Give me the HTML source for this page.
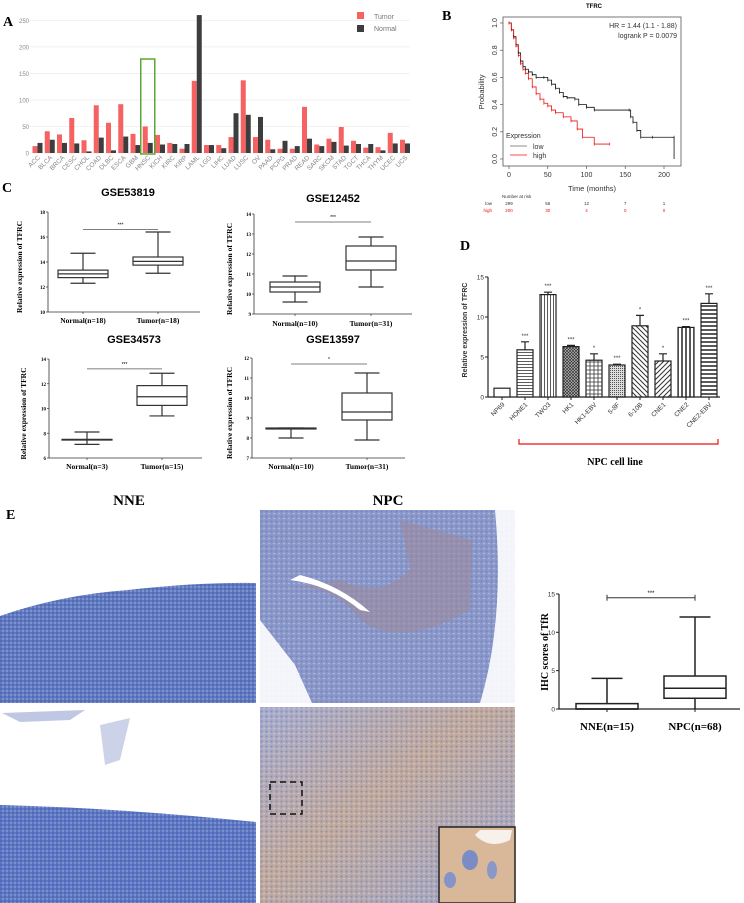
<!DOCTYPE html>
<html><head><meta charset="utf-8"><style>
html,body{margin:0;padding:0;background:#fff;}
svg{display:block;}
.s{font-family:"Liberation Sans",sans-serif;}
.r{font-family:"Liberation Serif",serif;font-weight:bold;}
</style></head><body>
<svg id="fig" width="744" height="903" viewBox="0 0 744 903" xmlns="http://www.w3.org/2000/svg">
<defs>
<pattern id="dots" width="4" height="4" patternUnits="userSpaceOnUse"><rect width="4" height="4" fill="none"/><circle cx="1" cy="1" r="0.9" fill="#2f4ea8" opacity="0.5"/><circle cx="3" cy="3" r="0.7" fill="#dfe4f4" opacity="0.6"/></pattern>
<pattern id="dots2" width="5" height="5" patternUnits="userSpaceOnUse"><circle cx="1.5" cy="1.5" r="1" fill="#5a6fb8" opacity="0.5"/><circle cx="4" cy="3.5" r="0.8" fill="#f0e8e0" opacity="0.5"/></pattern>
<linearGradient id="npcb" x1="0" y1="0" x2="1" y2="1"><stop offset="0" stop-color="#a7acce"/><stop offset="0.45" stop-color="#c2aa9c"/><stop offset="1" stop-color="#a0a8cc"/></linearGradient>
<pattern id="p-h" width="4" height="3" patternUnits="userSpaceOnUse"><rect width="4" height="3" fill="#fff"/><line x1="0" y1="1.5" x2="4" y2="1.5" stroke="#333" stroke-width="0.8"/></pattern>
<pattern id="p-v" width="3" height="4" patternUnits="userSpaceOnUse"><rect width="3" height="4" fill="#fff"/><line x1="1.5" y1="0" x2="1.5" y2="4" stroke="#333" stroke-width="0.8"/></pattern>
<pattern id="p-x" width="3" height="3" patternUnits="userSpaceOnUse"><rect width="3" height="3" fill="#bbb"/><path d="M0 0L3 3M3 0L0 3" stroke="#333" stroke-width="0.7"/></pattern>
<pattern id="p-g" width="4" height="4" patternUnits="userSpaceOnUse"><rect width="4" height="4" fill="#fff"/><path d="M2 0V4M0 2H4" stroke="#333" stroke-width="0.8"/></pattern>
<pattern id="p-d" width="2" height="2" patternUnits="userSpaceOnUse"><rect width="2" height="2" fill="#ddd"/><rect width="1" height="1" fill="#555"/></pattern>
<pattern id="p-s1" width="5" height="5" patternUnits="userSpaceOnUse"><rect width="5" height="5" fill="#fff"/><path d="M0 0L5 5M-1 4L1 6M4 -1L6 1" stroke="#333" stroke-width="1"/></pattern>
<pattern id="p-s2" width="5" height="5" patternUnits="userSpaceOnUse"><rect width="5" height="5" fill="#fff"/><path d="M5 0L0 5M-1 1L1 -1M4 6L6 4" stroke="#333" stroke-width="1"/></pattern>
<pattern id="p-vv" width="4" height="4" patternUnits="userSpaceOnUse"><rect width="4" height="4" fill="#fff"/><line x1="2" y1="0" x2="2" y2="4" stroke="#222" stroke-width="1.5"/></pattern>
<pattern id="p-hh" width="4" height="4" patternUnits="userSpaceOnUse"><rect width="4" height="4" fill="#fff"/><line x1="0" y1="2" x2="4" y2="2" stroke="#222" stroke-width="1.5"/></pattern>
</defs>
<g id="A"></g>
<g id="B"></g>
<g id="C"></g>
<g id="D"></g>
<g id="E">
  <text class="r" x="6" y="519" font-size="14">E</text>
  <text class="r" x="129" y="505" font-size="15" text-anchor="middle">NNE</text>
  <text class="r" x="388" y="505" font-size="15" text-anchor="middle">NPC</text>
  <g>
    <path d="M0 616 Q60 595 128 590 Q200 582 256 583 L256 703 L0 703Z" fill="#5f78c0"/>
    <path d="M0 616 Q60 595 128 590 Q200 582 256 583 L256 703 L0 703Z" fill="url(#dots)"/>
  </g>
  <g>
    <path d="M0 805 Q120 808 256 822 L256 903 L0 903Z" fill="#5d76c2"/>
    <path d="M0 805 Q120 808 256 822 L256 903 L0 903Z" fill="url(#dots)"/>
    <path d="M2 713 L85 710 L70 720 L20 722Z" fill="#8090c8" opacity="0.5"/>
    <path d="M100 725 L130 718 L120 760 L105 765Z" fill="#8090c8" opacity="0.4"/>
  </g>
  <g>
    <rect x="260" y="510" width="255" height="193" fill="#8a98ca"/>
    <rect x="260" y="510" width="255" height="193" fill="url(#dots2)"/>
    <path d="M285 590 Q330 580 360 620 Q400 650 470 610 L472 540 L400 520 L410 570 Q380 600 340 580Z" fill="#9c8a9c" opacity="0.6"/>
    <path d="M290 580 Q330 585 360 610 L370 612 Q340 585 300 575Z" fill="#fff"/>
    <path d="M260 620 L295 665 L312 703 L260 703Z" fill="#fff" opacity="0.9"/>
    <path d="M495 510 L515 510 L515 703 L480 703 Q505 620 495 510Z" fill="#fff" opacity="0.9"/>
  </g>
  <g>
    <rect x="260" y="707" width="255" height="196" fill="url(#npcb)"/>
    <rect x="260" y="707" width="255" height="196" fill="url(#dots2)"/>
    <rect x="270" y="782" width="32" height="32" fill="none" stroke="#111" stroke-width="1.5" stroke-dasharray="6 4"/>
    <rect x="439" y="827" width="76" height="76" fill="#d9b89a" stroke="#222" stroke-width="1.5"/>
    <ellipse cx="470" cy="860" rx="8" ry="10" fill="#7b8cc4"/><ellipse cx="450" cy="880" rx="6" ry="8" fill="#8494c8"/><ellipse cx="492" cy="870" rx="5" ry="9" fill="#8a98c8"/>
    <path d="M475 835 Q490 850 510 840 L512 830 L480 830Z" fill="#fff" opacity="0.8"/>
  </g>
</g>
<g id="E2"></g>
</svg>
<script>
const NS="http://www.w3.org/2000/svg";
function mk(p,t,a,txt){const e=document.createElementNS(NS,t);for(const k in a)e.setAttribute(k,a[k]);if(txt!==undefined)e.textContent=txt;p.appendChild(e);return e;}

// ---------- Panel A data ----------
const aCategories=["ACC","BLCA","BRCA","CESC","CHOL","COAD","DLBC","ESCA","GBM","HNSC","KICH","KIRC","KIRP","LAML","LGG","LIHC","LUAD","LUSC","OV","PAAD","PCPG","PRAD","READ","SARC","SKCM","STAD","TGCT","THCA","THYM","UCEC","UCS"];
const aTumor=[13,41,35,66,24,90,57,92,36,50,34,19,8,136,15,15,30,137,30,25,8,8,87,16,27,49,23,10,11,38,25];
const aNormal=[19,25,19,18,3,29,5,31,15,19,16,17,17,260,15,9,75,72,68,7,23,13,27,13,21,14,17,17,5,18,18];
const aTicks=[0,50,100,150,200,250];

// ---------- Panel B data ----------
const kmLowT=[0,3,6,9,12,15,18,21,25,30,35,45,50,55,60,65,70,75,85,90,100,110,155,157,160,165,170,185,213];
const kmLowS=[1,0.95,0.9,0.84,0.78,0.72,0.68,0.66,0.64,0.62,0.6,0.6,0.58,0.55,0.52,0.49,0.46,0.45,0.44,0.4,0.38,0.36,0.36,0.31,0.27,0.21,0.16,0.16,0.16];
const kmHighT=[0,3,6,9,12,15,18,21,25,30,35,40,45,50,55,60,70,80,88,95,110,130];
const kmHighS=[1,0.95,0.89,0.83,0.76,0.7,0.66,0.63,0.59,0.53,0.48,0.44,0.41,0.39,0.36,0.34,0.31,0.28,0.22,0.16,0.11,0.11];
const bXTicks=[0,50,100,150,200];
const bYTicks=[0,0.2,0.4,0.6,0.8,1.0];
const riskLow=[299,56,12,7,1];
const riskHigh=[200,30,4,0,0];

// ---------- Panel C data ----------
const cTitles=["GSE53819","GSE12452","GSE34573","GSE13597"];
const cGroups=[["Normal(n=18)","Tumor(n=18)"],["Normal(n=10)","Tumor(n=31)"],["Normal(n=3)","Tumor(n=15)"],["Normal(n=10)","Tumor(n=31)"]];
const cNormal=[[12.3,12.75,13.05,13.35,14.7],[9.6,10.1,10.35,10.6,10.9],[7.1,7.45,7.5,7.5,8.1],[8.0,8.45,8.48,8.5,8.5]];
const cTumor=[[13.1,13.75,14.05,14.4,16.4],[10.35,11.2,11.65,12.4,12.85],[9.4,10.25,10.95,11.85,12.85],[7.9,8.9,9.3,10.25,11.25]];
const cYTicks=[[10,12,14,16,18],[9,10,11,12,13,14],[6,8,10,12,14],[7,8,9,10,11,12]];
const cSig=["***","***","***","*"];
const cSigVal=[16.6,13.6,13.2,11.7];

// ---------- Panel D data ----------
const dCells=["NP69","HONE1","TWO3","HK1","HK1-EBV","5-8F","6-10B","CNE1","CNE2","CNE2-EBV"];
const dValues=[1.1,5.9,12.8,6.3,4.6,4.0,8.9,4.5,8.7,11.7];
const dErrors=[0,1.0,0.3,0.15,0.8,0.1,1.3,0.9,0.1,1.2];
const dSig=["","***","***","***","*","***","*","*","***","***"];
const dTicks=[0,5,10,15];

// ---------- Panel E data ----------
const eGroups=["NNE(n=15)","NPC(n=68)"];
const eNNE=[0,0,0,0.7,4];
const eNPC=[0,1.4,2.7,4.3,12];
const eTicks=[0,5,10,15];

// ===== Panel A =====
(function(){
const g=document.getElementById('A');
const y=v=>153-v*0.5305, x=i=>37.5+i*12.25;
let t=mk(g,'text',{x:3,y:26,'font-size':14,'class':'r'},'A');

aTicks.forEach(v=>{
 let l=mk(g,'line',{x1:30,x2:410,y1:y(v),y2:y(v),stroke:'#eee','stroke-width':0.8});
 
 let tt=mk(g,'text',{x:29,y:y(v)+2.5,'font-size':6,'text-anchor':'end',fill:'#888','class':'s'},v);
 
});
aCategories.forEach((c,i)=>{
 let r1=mk(g,'rect',{x:x(i)-5,y:y(aTumor[i]),width:5,height:aTumor[i]*0.5305,fill:'#f66162'});
 
 let r2=mk(g,'rect',{x:x(i),y:y(aNormal[i]),width:5,height:aNormal[i]*0.5305,fill:'#3d3d3d'});
 
 let tl=mk(g,'text',{x:x(i)+3,y:158,'font-size':6.5,'text-anchor':'end',fill:'#888','class':'s',transform:`rotate(-45 ${x(i)+3} 158)`},c);
 
});
const hi=aCategories.indexOf('HNSC');
let gb=mk(g,'rect',{x:x(hi)-7,y:59,width:14,height:95,fill:'none',stroke:'#5aa832','stroke-width':1.5});

let l1=mk(g,'rect',{x:357,y:12,width:7,height:7,fill:'#f66162'});
let l2=mk(g,'rect',{x:357,y:25,width:7,height:7,fill:'#3d3d3d'});
let l3=mk(g,'text',{x:374,y:19,'font-size':7,fill:'#777','class':'s'},'Tumor');
let l4=mk(g,'text',{x:374,y:31,'font-size':7,fill:'#777','class':'s'},'Normal');
})();

// ===== Panel B =====
(function(){
const g=document.getElementById('B');
const x=v=>509+v*0.775, y=v=>159-v*136;
let t=mk(g,'text',{x:442,y:20,'font-size':14,'class':'r'},'B');
let ti=mk(g,'text',{x:594,y:8,'font-size':6,'font-weight':'bold','text-anchor':'middle','class':'s'},'TFRC');
let fr=mk(g,'rect',{x:503,y:17,width:178,height:149,fill:'none',stroke:'#555','stroke-width':0.8});
bXTicks.forEach(v=>{let l=mk(g,'line',{x1:x(v),x2:x(v),y1:166,y2:169,stroke:'#555','stroke-width':0.7});
 let tt=mk(g,'text',{x:x(v),y:177,'font-size':7,'text-anchor':'middle','class':'s',fill:'#333'},v);});
bYTicks.forEach(v=>{let l=mk(g,'line',{x1:500,x2:503,y1:y(v),y2:y(v),stroke:'#555','stroke-width':0.7});
 let tt=mk(g,'text',{x:497,y:y(v),'font-size':7,'text-anchor':'middle','class':'s',fill:'#333',transform:`rotate(-90 497 ${y(v)})`},v.toFixed(1));});
let xt=mk(g,'text',{x:592,y:191,'font-size':7.5,'text-anchor':'middle','class':'s',fill:'#333'},'Time (months)');
let yt=mk(g,'text',{x:484,y:92,'font-size':7.5,'text-anchor':'middle','class':'s',fill:'#333',transform:'rotate(-90 484 92)'},'Probability');
function step(T,S){let d=`M${x(T[0])} ${y(S[0])}`;for(let i=1;i<T.length;i++){d+=`H${x(T[i])}V${y(S[i])}`;}return d;}
let pl=mk(g,'path',{d:step(kmLowT,kmLowS)+`V${y(0)}`,fill:'none',stroke:'#111','stroke-width':0.8});
let ph=mk(g,'path',{d:step(kmHighT,kmHighS),fill:'none',stroke:'#e11','stroke-width':0.8});
kmLowT.forEach((v,i)=>{let c=mk(g,'path',{d:`M${x(v)} ${y(kmLowS[i])-1.5}v3`,stroke:'#111','stroke-width':0.6});});
kmHighT.forEach((v,i)=>{let c=mk(g,'path',{d:`M${x(v)} ${y(kmHighS[i])-1.5}v3`,stroke:'#e11','stroke-width':0.6});});
let h1=mk(g,'text',{x:677,y:28,'font-size':7,'text-anchor':'end','class':'s',fill:'#333'},'HR = 1.44 (1.1 - 1.88)');
let h2=mk(g,'text',{x:677,y:38,'font-size':7,'text-anchor':'end','class':'s',fill:'#333'},'logrank P = 0.0079');
let e1=mk(g,'text',{x:506,y:138,'font-size':7,'class':'s',fill:'#333'},'Expression');
let e2=mk(g,'line',{x1:510,x2:527,y1:146,y2:146,stroke:'#666','stroke-width':0.7});
let e3=mk(g,'text',{x:533,y:149,'font-size':7,'class':'s',fill:'#333'},'low');
let e4=mk(g,'line',{x1:510,x2:527,y1:155,y2:155,stroke:'#e11','stroke-width':0.7});
let e5=mk(g,'text',{x:533,y:158,'font-size':7,'class':'s',fill:'#333'},'high');
let n0=mk(g,'text',{x:502,y:198,'font-size':4.5,'class':'s',fill:'#333'},'Number at risk');
let n1=mk(g,'text',{x:492,y:205,'font-size':4.5,'text-anchor':'end','class':'s',fill:'#333'},'low');
let n2=mk(g,'text',{x:492,y:212,'font-size':4.5,'text-anchor':'end','class':'s',fill:'#e11'},'high');
bXTicks.forEach((v,i)=>{let a=mk(g,'text',{x:x(v),y:205,'font-size':4.5,'text-anchor':'middle','class':'s',fill:'#333'},riskLow[i]);
 let b=mk(g,'text',{x:x(v),y:212,'font-size':4.5,'text-anchor':'middle','class':'s',fill:'#e11'},riskHigh[i]);});
})();

// ===== Panel C =====
(function(){
const g=document.getElementById('C');
let t=mk(g,'text',{x:2,y:192,'font-size':14,'class':'r'},'C');
const L=[{ax:48,yt:212,yb:312,xe:200,c1:83,c2:158,tx:128,ty:196,lx:22,lab:323},
 {ax:254,yt:214,yb:314,xe:412,c1:295,c2:371,tx:333,ty:202,lx:232,lab:326},
 {ax:49,yt:359,yb:458,xe:202,c1:87,c2:162,tx:134,ty:343,lx:26,lab:469},
 {ax:252,yt:358,yb:458,xe:405,c1:291,c2:367,tx:333,ty:343,lx:232,lab:469}];
L.forEach((p,k)=>{
 const tk=cYTicks[k],lo=tk[0],hi=tk[tk.length-1];
 const y=v=>p.yb-(v-lo)/(hi-lo)*(p.yb-p.yt);
 let tt=mk(g,'text',{x:p.tx,y:p.ty,'font-size':11,'font-weight':'bold','text-anchor':'middle','class':'s'},cTitles[k]);
 let ax=mk(g,'path',{d:`M${p.ax} ${p.yt}V${p.yb}H${p.xe}`,fill:'none',stroke:'#333','stroke-width':0.8});
 tk.forEach(v=>{let l=mk(g,'line',{x1:p.ax-2,x2:p.ax,y1:y(v),y2:y(v),stroke:'#333','stroke-width':0.7});
  let tl=mk(g,'text',{x:p.ax-3,y:y(v)+2,'font-size':5,'text-anchor':'end','class':'r'},v);});
 let yl=mk(g,'text',{x:p.lx,y:(p.yt+p.yb)/2+5,'font-size':7.5,'text-anchor':'middle','class':'r',transform:`rotate(-90 ${p.lx} ${(p.yt+p.yb)/2+5})`},'Relative expression of TFRC');
 [[p.c1,cNormal[k]],[p.c2,cTumor[k]]].forEach(([cx,b],j)=>{
  let tick=mk(g,'line',{x1:cx,x2:cx,y1:p.yb,y2:p.yb+2,stroke:'#333','stroke-width':0.7});
  let lb=mk(g,'text',{x:cx,y:p.lab,'font-size':7.5,'text-anchor':'middle','class':'r'},cGroups[k][j]);
  const w=25;
  let bx=mk(g,'path',{d:`M${cx} ${y(b[0])}V${y(b[1])}M${cx-w/2} ${y(b[0])}H${cx+w/2}M${cx} ${y(b[4])}V${y(b[3])}M${cx-w/2} ${y(b[4])}H${cx+w/2}M${cx-w} ${y(b[2])}H${cx+w}`,stroke:'#333','stroke-width':1.2,fill:'none'});
  
  let r=mk(g,'rect',{x:cx-w,y:y(b[3]),width:2*w,height:Math.max(0,y(b[1])-y(b[3])),fill:'none',stroke:'#333','stroke-width':1.2});
  
 });
 let sl=mk(g,'line',{x1:p.c1,x2:p.c2,y1:y(cSigVal[k]),y2:y(cSigVal[k]),stroke:'#555','stroke-width':0.7});
 let st=mk(g,'text',{x:(p.c1+p.c2)/2,y:y(cSigVal[k])-3,'font-size':5,'text-anchor':'middle','class':'s'},cSig[k]);
});
})();

// ===== Panel D =====
(function(){
const g=document.getElementById('D');
const y=v=>397-v*8, x=i=>502+i*23;
const fills=['#fff','url(#p-h)','url(#p-v)','url(#p-x)','url(#p-g)','url(#p-d)','url(#p-s1)','url(#p-s2)','url(#p-vv)','url(#p-hh)'];
let t=mk(g,'text',{x:460,y:250,'font-size':14,'class':'r'},'D');
let ax=mk(g,'path',{d:`M488 ${y(15)}V397H720`,fill:'none',stroke:'#222','stroke-width':1.2});
dTicks.forEach(v=>{let l=mk(g,'line',{x1:485,x2:488,y1:y(v),y2:y(v),stroke:'#222','stroke-width':1});
 let tl=mk(g,'text',{x:484,y:y(v)+2.5,'font-size':6.5,'text-anchor':'end','class':'s',fill:'#333'},v);});
let yl=mk(g,'text',{x:467,y:330,'font-size':7,'font-weight':'bold','text-anchor':'middle','class':'s',fill:'#333',transform:'rotate(-90 467 330)'},'Relative expression of TFRC');
dCells.forEach((c,i)=>{
 const cx=x(i);
 if(dErrors[i]>0){let e=mk(g,'path',{d:`M${cx} ${y(dValues[i])}V${y(dValues[i]+dErrors[i])}M${cx-4} ${y(dValues[i]+dErrors[i])}H${cx+4}`,stroke:'#222','stroke-width':1.2});}
 let r=mk(g,'rect',{x:cx-8,y:y(dValues[i]),width:16,height:dValues[i]*8,fill:fills[i],stroke:'#222','stroke-width':1.2});
 
 let tk=mk(g,'line',{x1:cx,x2:cx,y1:397,y2:400,stroke:'#222'});
 let tl=mk(g,'text',{x:cx+3,y:405,'font-size':6.5,'text-anchor':'end','class':'s',fill:'#333',transform:`rotate(-45 ${cx+3} 405)`},c);
 if(dSig[i]){let s=mk(g,'text',{x:cx,y:y(dValues[i]+dErrors[i])-4,'font-size':6,'text-anchor':'middle','class':'s',fill:'#333'},dSig[i]);}
});
let br=mk(g,'path',{d:'M519 439V444H718V439',fill:'none',stroke:'#e11','stroke-width':1.2});
let bl=mk(g,'text',{x:615,y:465,'font-size':10,'text-anchor':'middle','class':'r'},'NPC cell line');
})();

// ===== Panel E boxplot =====
(function(){
const g=document.getElementById('E2');
const y=v=>709-v*7.67;
const cs=[607,695],data=[eNNE,eNPC];
let ax=mk(g,'path',{d:`M559 ${y(15)}V709H740`,fill:'none',stroke:'#222','stroke-width':1.2});
eTicks.forEach(v=>{let l=mk(g,'line',{x1:556,x2:559,y1:y(v),y2:y(v),stroke:'#222'});
 let tl=mk(g,'text',{x:555,y:y(v)+2.5,'font-size':6.5,'text-anchor':'end','class':'s',fill:'#333'},v);});
let yl=mk(g,'text',{x:548,y:652,'font-size':10,'text-anchor':'middle','class':'r',transform:'rotate(-90 548 652)'},'IHC scores of TfR');
data.forEach((b,j)=>{const cx=cs[j],w=31;
 let tk=mk(g,'line',{x1:cx,x2:cx,y1:709,y2:712,stroke:'#222'});
 let lb=mk(g,'text',{x:cx,y:730,'font-size':11,'text-anchor':'middle','class':'r'},eGroups[j]);
 let wh=mk(g,'path',{d:`M${cx} ${y(b[4])}V${y(b[3])}M${cx-w/2} ${y(b[4])}H${cx+w/2}M${cx} ${y(b[1])}V${y(b[0])}M${cx-w} ${y(b[2])}H${cx+w}`,stroke:'#222','stroke-width':1.5,fill:'none'});
 let r=mk(g,'rect',{x:cx-w,y:y(b[3]),width:2*w,height:y(b[1])-y(b[3]),fill:'none',stroke:'#222','stroke-width':1.5});
});
let sb=mk(g,'path',{d:`M${cs[0]} ${y(14.5)-3}v6M${cs[0]} ${y(14.5)}H${cs[1]}M${cs[1]} ${y(14.5)-3}v6`,stroke:'#333','stroke-width':1,fill:'none'});
let st=mk(g,'text',{x:(cs[0]+cs[1])/2,y:y(14.5)-3,'font-size':6,'text-anchor':'middle','class':'s'},'***');
})();
</script>
</body></html>
